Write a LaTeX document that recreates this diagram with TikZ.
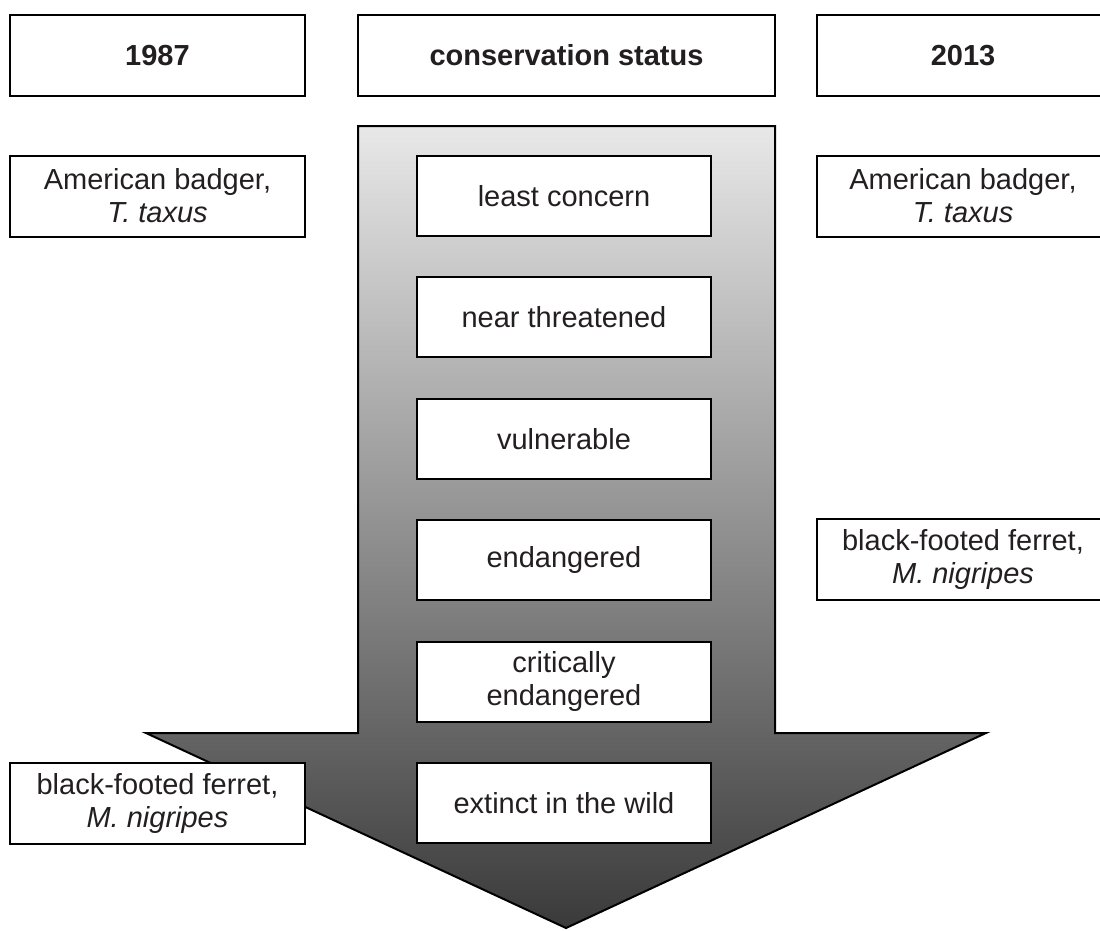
\documentclass[tikz,border=0pt]{standalone}
\usepackage{fontspec}
\setmainfont{Liberation Sans}
\definecolor{txt}{HTML}{231F20}
\definecolor{shadetop}{RGB}{232,232,232}
\definecolor{shadebot}{RGB}{58,58,58}
\begin{document}
\begin{tikzpicture}[x=1pt,y=-1pt,
  every node/.style={font=\fontsize{29}{33}\selectfont, text=txt, align=center, inner sep=0pt},
  box/.style={draw=black, line width=2pt, fill=white, minimum width=#1, minimum height=81pt},
  box/.default=295pt,
  head/.style={box=#1, font=\fontsize{29}{33}\selectfont\bfseries},
  head/.default=295pt,
  level/.style={box=294pt, minimum height=80pt}]
\clip (0,0) rectangle (1100,930);
\fill[white] (0,0) rectangle (1100,930);
% the big shaded arrow
\path[draw=black, line width=2pt, top color=shadetop, bottom color=shadebot]
  (358,126) -- (775,126) -- (775,733) -- (986,733) -- (566,928) -- (146,733) -- (358,733) -- cycle;
% headers
\node[head=295pt] (y1987) at (157.5,55.5) {1987};
\node[head=417pt] (cs) at (566.5,55.5) {conservation status};
\node[head=292pt] (y2013) at (963,55.5) {2013};
% status levels
\node[level] (lc) at (564,196) {least concern};
\node[level] (nt) at (564,317) {near threatened};
\node[level] (vu) at (564,439) {vulnerable};
\node[level] (en) at (564,560) {endangered};
\node[level] (cr) at (564,681.5) {critically\\endangered};
\node[level] (ew) at (564,803) {extinct in the wild};
% species
\node[box=295pt] (badgerL) at (157.5,196) {American badger,\\\textit{T. taxus}};
\node[box=292pt] (badgerR) at (963,196) {American badger,\\\textit{T. taxus}};
\node[box=292pt] (ferretR) at (963,559.5) {black-footed ferret,\\\textit{M. nigripes}};
\node[box=295pt] (ferretL) at (157.5,803) {black-footed ferret,\\\textit{M. nigripes}};
\end{tikzpicture}
\end{document}
